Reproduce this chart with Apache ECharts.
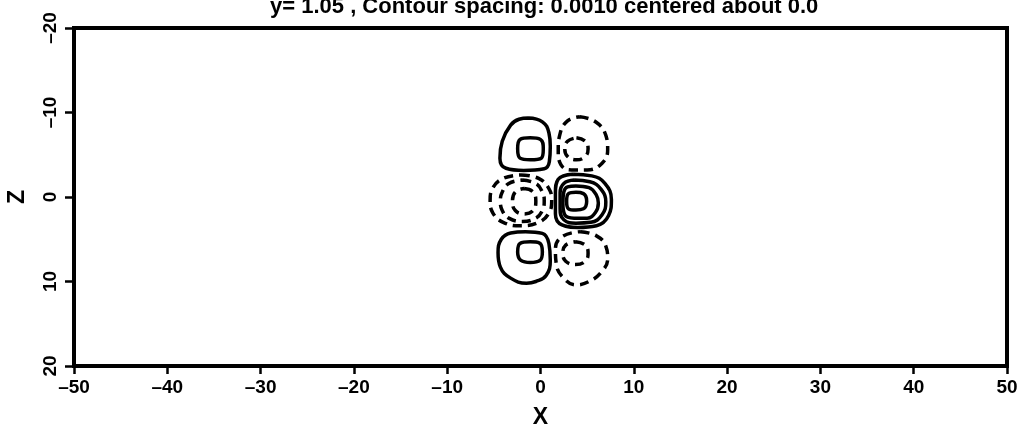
<!DOCTYPE html>
<html><head><meta charset="utf-8">
<script src="https://cdn.jsdelivr.net/npm/echarts@6/dist/echarts.min.js"></script>
<style>html,body{margin:0;padding:0;background:#fff}#c{width:1024px;height:437px}</style>
</head><body><div id="c"></div>
<script>
const titleText = 'y= 1.05 , Contour spacing: 0.0010 centered about 0.0';
const xTicks = [-50, -40, -30, -20, -10, 0, 10, 20, 30, 40, 50];
const zTicks = [-20, -10, 0, 10, 20];

// Positive contours (solid), [x, z]
const tlOuter = [[-1.3,-9.35],[0.2,-8.9],[0.9,-7.6],[1.05,-6.0],[0.95,-4.2],[0.4,-3.35],[-1.8,-3.15],[-3.7,-3.4],[-4.35,-4.6],[-4.1,-6.6],[-3.2,-8.5],[-2.3,-9.2]];
const tlInner = [[-1.1,-7.0],[0.0,-6.8],[0.3,-5.7],[0.1,-4.6],[-1.1,-4.4],[-2.2,-4.6],[-2.45,-5.7],[-2.2,-6.8]];
const mr1 = [[3.5,-2.7],[5.5,-2.5],[6.9,-1.6],[7.6,0.3],[7.3,2.2],[6.0,3.4],[4.0,3.6],[2.3,3.3],[1.6,2.0],[1.6,-0.5],[1.9,-2.1]];
const mr2 = [[3.6,-2.0],[5.3,-1.8],[6.5,-0.9],[7.0,0.6],[6.6,2.1],[5.4,3.0],[3.8,3.1],[2.5,2.7],[2.1,1.4],[2.1,-0.5],[2.5,-1.6]];
const mr3 = [[3.8,-1.3],[5.2,-1.1],[6.0,-0.2],[6.2,0.7],[5.9,1.8],[5.0,2.5],[3.6,2.5],[2.6,2.1],[2.4,0.7],[2.5,-0.6],[2.9,-1.2]];
const mr4 = [[3.8,-0.55],[4.6,-0.4],[4.95,0.5],[4.6,1.4],[3.8,1.55],[3.0,1.4],[2.8,0.5],[3.0,-0.4]];
const blOuter = [[-1.6,4.1],[0.2,4.3],[0.9,5.5],[1.05,7.5],[0.6,9.3],[-0.5,10.0],[-1.5,10.2],[-3.2,9.6],[-4.3,8.3],[-4.55,6.6],[-4.2,5.0],[-3.2,4.25]];
const blInner = [[-1.1,5.3],[-0.1,5.45],[0.2,6.5],[-0.05,7.5],[-1.1,7.75],[-2.1,7.5],[-2.45,6.5],[-2.2,5.5]];

// Negative contours (dashed)
const trOuter = [[4.2,-9.5],[5.9,-8.9],[7.0,-7.3],[7.2,-5.6],[6.6,-4.0],[5.0,-3.2],[3.3,-3.2],[2.2,-3.8],[1.9,-5.5],[2.1,-7.5],[2.9,-9.0]];
const trInner = [[3.85,-7.0],[4.8,-6.6],[5.1,-5.7],[4.8,-4.8],[3.85,-4.4],[2.9,-4.8],[2.6,-5.7],[2.9,-6.6]];
const ml1 = [[-2.1,-2.6],[-0.2,-2.2],[0.9,-1.0],[1.2,0.4],[0.9,1.9],[-0.2,3.0],[-2.1,3.4],[-4.0,3.0],[-5.1,1.9],[-5.4,0.4],[-5.1,-1.1],[-4.0,-2.2]];
const ml2 = [[-1.95,-2.0],[-0.5,-1.6],[0.2,-0.6],[0.4,0.45],[0.2,1.6],[-0.5,2.5],[-1.95,2.9],[-3.4,2.5],[-4.1,1.6],[-4.3,0.45],[-4.1,-0.6],[-3.4,-1.6]];
const ml3 = [[-1.75,-1.0],[-0.8,-0.6],[-0.5,0.5],[-0.8,1.6],[-1.75,2.0],[-2.7,1.6],[-3.0,0.5],[-2.7,-0.6]];
const brOuter = [[4.3,4.1],[6.0,4.6],[7.0,5.8],[7.2,7.3],[6.5,8.9],[5.2,10.0],[3.8,10.4],[2.5,9.6],[1.7,8.0],[1.6,6.2],[2.3,4.7]];
const brInner = [[3.75,5.3],[4.8,5.7],[5.1,6.65],[4.8,7.6],[3.75,8.0],[2.7,7.6],[2.4,6.65],[2.7,5.7]];

const solidContours = [tlOuter, tlInner, mr1, mr2, mr3, mr4, blOuter, blInner];
const dashedContours = [trOuter, trInner, ml1, ml2, ml3, brOuter, brInner];

const FONT = 'Liberation Sans';
const fmt = v => String(v).replace('-', '\u2013');

function loop(pts) { return pts.concat([pts[0]]); }
const series = [];
solidContours.forEach(c => series.push({
  type: 'line', data: loop(c), smooth: 0.45, symbol: 'none', silent: true,
  lineStyle: { color: '#000', width: 3.5, type: 'solid' }
}));
dashedContours.forEach(c => series.push({
  type: 'line', data: loop(c), smooth: 0.45, symbol: 'none', silent: true,
  lineStyle: { color: '#000', width: 3.5, type: [9, 6] }
}));

const chart = echarts.init(document.getElementById('c'), null, { renderer: 'canvas' });
chart.setOption({
  animation: false,
  backgroundColor: '#fff',
  title: {
    text: titleText, left: 265, top: -9,
    textStyle: { fontFamily: FONT, fontWeight: 'bold', fontSize: 22, color: '#000' }
  },
  grid: { left: 74, right: 17, top: 28, bottom: 71, containLabel: false, outerBoundsMode: 'none',
          show: true, borderColor: '#000', borderWidth: 4, backgroundColor: 'transparent' },
  xAxis: {
    type: 'value', position: 'bottom', min: xTicks[0], max: xTicks[xTicks.length - 1], interval: 10,
    name: 'X', nameLocation: 'middle', nameGap: 40,
    nameTextStyle: { fontFamily: FONT, fontWeight: 'bold', fontSize: 23, color: '#000' },
    axisLine: { onZero: false, lineStyle: { color: '#000', width: 4 } },
    axisTick: { length: 8, lineStyle: { color: '#000', width: 2.5 } },
    splitLine: { show: false },
    axisLabel: { formatter: fmt, margin: 12, fontFamily: FONT, fontWeight: 'bold', fontSize: 19, color: '#000' }
  },
  yAxis: {
    type: 'value', position: 'left', inverse: true, min: zTicks[0], max: zTicks[zTicks.length - 1], interval: 10,
    name: 'Z', nameLocation: 'middle', nameGap: 45, nameRotate: 90,
    nameTextStyle: { fontFamily: FONT, fontWeight: 'bold', fontSize: 23, color: '#000' },
    axisLine: { onZero: false, lineStyle: { color: '#000', width: 4 } },
    axisTick: { length: 9, lineStyle: { color: '#000', width: 2.5 } },
    splitLine: { show: false },
    axisLabel: { formatter: fmt, rotate: 90, margin: 14, fontFamily: FONT, fontWeight: 'bold', fontSize: 19, color: '#000' }
  },
  series: series
});
</script>
</body></html>
